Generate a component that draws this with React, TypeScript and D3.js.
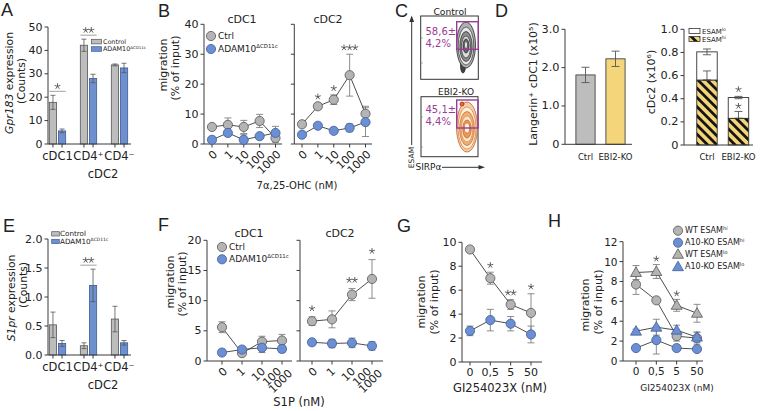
import React from "react";
import * as d3 from "d3";

// ---------------- data ----------------
const exprCategories = ["cDC1", "CD4⁺", "CD4⁻"];
const exprGroups = ["Control", "ADAM10"];
const gpr183Control = [17.8, 42.2, 33.8];
const gpr183ControlErr = [3.0, 2.6, 0.4];
const gpr183Adam = [5.6, 28.0, 32.5];
const gpr183AdamErr = [0.8, 1.8, 2.0];
const gpr183Ticks = [0, 10, 20, 30, 40, 50];
const gpr183Sig = [{ cat: "cDC1", text: "*" }, { cat: "CD4⁺", text: "**" }];

const s1prControl = [0.52, 0.16, 0.62];
const s1prControlErr = [0.22, 0.05, 0.22];
const s1prAdam = [0.2, 1.2, 0.21];
const s1prAdamErr = [0.05, 0.28, 0.04];
const s1prTicks = [0, 0.5, 1.0, 1.5, 2.0];
const s1prSig = [{ cat: "CD4⁺", text: "**" }];

const ohcDoses = ["0", "1", "10", "100", "1000"];
const ohcCdc1Ctrl = [5.7, 6.4, 5.7, 7.7, 2.0];
const ohcCdc1CtrlErr = [0.6, 2.3, 2.2, 2.2, 1.4];
const ohcCdc1Adam = [1.4, 3.7, 1.4, 2.6, 3.7];
const ohcCdc1AdamErr = [0.4, 0.9, 1.7, 0.7, 2.2];
const ohcCdc2Ctrl = [6.6, 12.6, 14.8, 23.0, 10.1];
const ohcCdc2CtrlErr = [0.6, 1.0, 1.6, 7.0, 2.5];
const ohcCdc2Adam = [3.1, 6.1, 4.4, 5.4, 7.3];
const ohcCdc2AdamErr = [0.4, 0.5, 0.5, 1.3, 4.8];
const ohcCdc2Sig = [{ dose: "1", text: "*" }, { dose: "10", text: "*" }, { dose: "100", text: "***" }];
const mig40Ticks = [0, 10, 20, 30, 40];

const s1pDoses = ["0", "1", "10", "100"];
const s1pTickLabels = ["0", "1", "10", "100", "1000"];
const s1pCdc1Ctrl = [5.6, 1.3, 3.2, 3.4];
const s1pCdc1CtrlErr = [0.9, 0.3, 0.9, 1.0];
const s1pCdc1Adam = [1.4, 1.9, 2.2, 2.0];
const s1pCdc1AdamErr = [0.2, 0.5, 0.8, 0.6];
const s1pCdc2Ctrl = [6.6, 6.9, 11.0, 13.6];
const s1pCdc2CtrlErr = [0.7, 1.4, 1.0, 3.2];
const s1pCdc2Adam = [3.1, 2.9, 3.0, 2.5];
const s1pCdc2AdamErr = [0.3, 0.7, 0.8, 0.7];
const s1pCdc2Sig = [{ dose: "0", text: "*" }, { dose: "10", text: "**" }, { dose: "100", text: "*" }];
const mig20Ticks = [0, 5, 10, 15, 20];

const giDoses = ["0", "0,5", "5", "50"];
const giCtrl = [9.4, 7.0, 4.8, 4.1];
const giCtrlErr = [0.2, 0.5, 0.4, 1.6];
const giAdam = [2.6, 3.5, 3.2, 2.3];
const giAdamErr = [0.4, 0.9, 0.6, 0.7];
const giSig = [{ dose: "0,5", text: "*" }, { dose: "5", text: "**" }, { dose: "50", text: "*" }];
const giTicks = [0, 2, 4, 6, 8, 10];

const hWtHi = [7.7, 6.1, 2.5, 2.3];
const hWtHiErr = [1.0, 0.2, 0.5, 0.6];
const hKoHi = [1.3, 2.1, 1.3, 1.2];
const hKoHiErr = [0.2, 1.4, 0.2, 0.2];
const hWtLo = [8.9, 9.0, 5.6, 4.8];
const hWtLoErr = [0.7, 0.7, 0.6, 0.9];
const hKoLo = [3.0, 3.4, 3.1, 2.4];
const hKoLoErr = [0.2, 0.8, 0.5, 0.5];
const hSig = [{ dose: "0,5", text: "*" }, { dose: "5", text: "*" }];
const hTicks = [0, 2, 4, 6, 8, 10, 12];

const dGroups = ["Ctrl", "EBI2-KO"];
const langerinCdc1 = [1.81, 2.23];
const langerinCdc1Err = [0.2, 0.2];
const cdc2EsamHi = [0.56, 0.23];
const cdc2EsamHiErr = [0.08, 0.06];
const cdc2Total = [0.805, 0.41];
const cdc2TotalErr = [0.025, 0.01];
const dLeftTicks = [0, 1, 2, 3];
const dRightTicks = [0, 0.2, 0.4, 0.6, 0.8, 1.0];

// ---------------- style ----------------
const FONT = "'DejaVu Sans', Verdana, sans-serif";
const LETTER_FONT = "'Liberation Sans', Arial, Helvetica, sans-serif";
const INK = "#222";
const AXIS = "#3a3a3a";
const GRAY_FILL = "#b4b4b4";
const GRAY_STROKE = "#555";
const BLUE_FILL = "#6b8fd2";
const BLUE_STROKE = "#3d5d9c";
const ERR = "#808080";
const STAR = "#5a5a5a";
const PURPLE = "#9b3a97";
const YELLOW = "#f4d57a";
const BAR_GRAY = "#bdbdbd";
const BAR_BLUE = "#6e90cf";

function YAxis({ y, x, ticks, fmt, labels = true, fs = 11 }: any) {
  const r = y.range();
  return (
    <g>
      <line x1={x} x2={x} y1={r[0]} y2={r[1]} stroke={AXIS} strokeWidth={1} />
      {ticks.map((t: number) => (
        <g key={t}>
          <line x1={x - 3.5} x2={x} y1={y(t)} y2={y(t)} stroke={AXIS} strokeWidth={1} />
          {labels && (
            <text x={x - 5.5} y={y(t)} textAnchor="end" dominantBaseline="central" fontSize={fs} fill={INK}>
              {fmt ? fmt(t) : String(t)}
            </text>
          )}
        </g>
      ))}
    </g>
  );
}

function XAxis({ x0, x1, y, ticksAt }: any) {
  return (
    <g stroke={AXIS} strokeWidth={1}>
      <line x1={x0} x2={x1} y1={y} y2={y} />
      {ticksAt.map((t: number, i: number) => (
        <line key={i} x1={t} x2={t} y1={y} y2={y + 3.5} />
      ))}
    </g>
  );
}

function ErrorBar({ x, yLo, yHi, w = 7, color = ERR, sw = 0.9 }: any) {
  return (
    <g stroke={color} strokeWidth={sw}>
      <line x1={x} x2={x} y1={yLo} y2={yHi} />
      <line x1={x - w / 2} x2={x + w / 2} y1={yLo} y2={yLo} />
      <line x1={x - w / 2} x2={x + w / 2} y1={yHi} y2={yHi} />
    </g>
  );
}

function Marker({ x, y, shape, color }: any) {
  const fill = color === "gray" ? GRAY_FILL : BLUE_FILL;
  const stroke = color === "gray" ? GRAY_STROKE : BLUE_STROKE;
  if (shape === "triangle") {
    const d = d3.symbol(d3.symbolTriangle, 52)() as string;
    return <path d={d} transform={`translate(${x},${y + 0.8})`} fill={fill} stroke={stroke} strokeWidth={0.8} />;
  }
  return <circle cx={x} cy={y} r={4.6} fill={fill} stroke={stroke} strokeWidth={0.8} />;
}

function SeriesLayer({ xs, y, series }: any) {
  const line = d3.line();
  return (
    <g>
      {series.map((s: any, si: number) => (
        <g key={"e" + si}>
          {s.values.map((v: number, i: number) =>
            s.errs[i] > 0 ? (
              <ErrorBar key={i} x={xs[i]} yLo={y(Math.max(0, v - s.errs[i]))} yHi={y(v + s.errs[i])} />
            ) : null
          )}
        </g>
      ))}
      {series.map((s: any, si: number) => (
        <path
          key={"l" + si}
          d={line(s.values.map((v: number, i: number) => [xs[i], y(v)])) as string}
          fill="none"
          stroke="#3a3a3a"
          strokeWidth={0.9}
        />
      ))}
      {series.map((s: any, si: number) => (
        <g key={"m" + si}>
          {s.values.map((v: number, i: number) => (
            <Marker key={i} x={xs[i]} y={y(v)} shape={s.shape} color={s.color} />
          ))}
        </g>
      ))}
    </g>
  );
}

// significance asterisks drawn as small 5-armed stars (gray)
function Star({ x, y, text }: any) {
  const n = text.length;
  const gap = 5.6;
  const r = 2.7;
  const arms = [-90, -18, 54, 126, 198].map((a) => (a * Math.PI) / 180);
  return (
    <g stroke={STAR} strokeWidth={0.95} strokeLinecap="round">
      {d3.range(n).map((k) => {
        const cx = x + (k - (n - 1) / 2) * gap;
        return (
          <g key={k}>
            {arms.map((a, j) => (
              <line key={j} x1={cx} y1={y} x2={cx + r * Math.cos(a)} y2={y + r * Math.sin(a)} />
            ))}
          </g>
        );
      })}
    </g>
  );
}

function RotLabels({ items, axisY, fs = 11 }: any) {
  return (
    <g>
      {items.map((it: any, i: number) => (
        <text
          key={i}
          transform={`translate(${it.x + 6},${axisY + 11 + (it.dy || 0)}) rotate(-45)`}
          textAnchor="end"
          fontSize={fs}
          fill={INK}
        >
          {it.text}
        </text>
      ))}
    </g>
  );
}

function VLabel({ x, y, children, fs = 11, italic = false }: any) {
  return (
    <text
      transform={`translate(${x},${y}) rotate(-90)`}
      textAnchor="middle"
      dominantBaseline="central"
      fontSize={fs}
      fill={INK}
      fontStyle={italic ? "italic" : "normal"}
    >
      {children}
    </text>
  );
}

function Letter({ x, y, t }: any) {
  return (
    <text x={x} y={y} fontFamily={LETTER_FONT} fontSize={18} fill={INK}>
      {t}
    </text>
  );
}

function ExprPanel({ y, ticks, fmt, ctrl, ctrlErr, adam, adamErr, sig, legend, ylab }: any) {
  const x = d3.scaleBand<string>().domain(exprCategories).range([42, 135]);
  const sub = d3.scaleBand<string>().domain(exprGroups).range([-10, 10]).padding(0.2);
  const y0 = y(0);
  const groups = [
    { key: "Control", vals: ctrl, errs: ctrlErr, fill: BAR_GRAY, stroke: "#555" },
    { key: "ADAM10", vals: adam, errs: adamErr, fill: BAR_BLUE, stroke: "#3b5b98" },
  ];
  const bw = sub.bandwidth();
  const bx = (cat: string, g: string) => (x(cat) as number) + x.bandwidth() / 2 + (sub(g) as number);
  return (
    <g>
      {groups.map((g) =>
        exprCategories.map((c, i) => (
          <g key={g.key + c}>
            <rect x={bx(c, g.key)} y={y(g.vals[i])} width={bw} height={y0 - y(g.vals[i])} fill={g.fill} stroke={g.stroke} strokeWidth={0.8} />
            <ErrorBar x={bx(c, g.key) + bw / 2} yLo={y(g.vals[i] - g.errs[i])} yHi={y(g.vals[i] + g.errs[i])} w={5} color="#555" sw={0.8} />
          </g>
        ))
      )}
      <YAxis y={y} x={48} ticks={ticks} fmt={fmt} />
      <XAxis
        x0={48}
        x1={131}
        y={y0}
        ticksAt={exprCategories.flatMap((c) => exprGroups.map((g) => bx(c, g) + bw / 2))}
      />
      {exprCategories.map((c) => (
        <text key={c} x={(x(c) as number) + x.bandwidth() / 2} y={y0 + 16} textAnchor="middle" fontSize={11.5} fill={INK}>
          {c}
        </text>
      ))}
      <text x={103} y={y0 + 34} textAnchor="middle" fontSize={11.5} fill={INK}>
        cDC2
      </text>
      {sig.map((s: any, k: number) => {
        const i = exprCategories.indexOf(s.cat);
        const top = Math.max(ctrl[i] + ctrlErr[i], adam[i] + adamErr[i]);
        const ly = y(top) - 4;
        const xl = bx(s.cat, "Control");
        const xr = bx(s.cat, "ADAM10") + bw;
        return (
          <g key={k}>
            <line x1={xl} x2={xr} y1={ly} y2={ly} stroke="#888" strokeWidth={0.8} />
            <Star x={(xl + xr) / 2} y={ly - 5} text={s.text} />
          </g>
        );
      })}
      {/* legend */}
      <rect x={legend.x} y={legend.y1} width={legend.w} height={legend.h} fill={BAR_GRAY} stroke="#555" strokeWidth={0.7} />
      <rect x={legend.x} y={legend.y2} width={legend.w} height={legend.h} fill={BAR_BLUE} stroke="#3b5b98" strokeWidth={0.7} />
      <text x={legend.tx} y={legend.y1 + legend.h} fontSize={legend.fs} fill={INK}>Control</text>
      <text x={legend.tx} y={legend.y2 + legend.h} fontSize={legend.fs} fill={INK}>
        ADAM10<tspan fontSize={legend.fs * 0.62} dy={-2.5}>ΔCD11c</tspan>
      </text>
      <VLabel x={ylab.x1} y={ylab.y1} fs={10.8}>
        <tspan fontStyle="italic">{ylab.italic}</tspan>
        {ylab.rest}
      </VLabel>
      <VLabel x={ylab.x2} y={ylab.y2} fs={10.8}>(Counts)</VLabel>
    </g>
  );
}

function MigLegend({ x, y1, y2, fs = 9 }: any) {
  return (
    <g>
      <Marker x={x} y={y1} shape="circle" color="gray" />
      <Marker x={x} y={y2} shape="circle" color="blue" />
      <text x={x + 7} y={y1} dominantBaseline="central" fontSize={fs} fill={INK}>Ctrl</text>
      <text x={x + 7} y={y2} dominantBaseline="central" fontSize={fs} fill={INK}>
        ADAM10<tspan fontSize={fs * 0.6} dy={-3}>ΔCD11c</tspan>
      </text>
    </g>
  );
}

function PanelB() {
  const y = d3.scaleLinear().domain([0, 40]).range([144, 24.3]);
  const x1 = d3.scalePoint<string>().domain(ohcDoses).range([212, 275.5]);
  const x2 = d3.scalePoint<string>().domain(ohcDoses).range([302, 365.5]);
  const xs1 = ohcDoses.map((d) => x1(d) as number);
  const xs2 = ohcDoses.map((d) => x2(d) as number);
  return (
    <g>
      <Letter x={158} y={17} t="B" />
      <text x={242} y={23} textAnchor="middle" fontSize={11} fill={INK}>cDC1</text>
      <text x={328} y={23} textAnchor="middle" fontSize={11} fill={INK}>cDC2</text>
      <YAxis y={y} x={204} ticks={mig40Ticks} />
      <YAxis y={y} x={294.3} ticks={mig40Ticks} labels={false} />
      <XAxis x0={204} x1={282} y={144} ticksAt={xs1} />
      <XAxis x0={294.3} x1={372} y={144} ticksAt={xs2} />
      <RotLabels axisY={144} items={ohcDoses.map((d, i) => ({ x: xs1[i], text: d }))} />
      <RotLabels axisY={144} items={ohcDoses.map((d, i) => ({ x: xs2[i], text: d }))} />
      <SeriesLayer
        xs={xs1}
        y={y}
        series={[
          { values: ohcCdc1Ctrl, errs: ohcCdc1CtrlErr, color: "gray", shape: "circle" },
          { values: ohcCdc1Adam, errs: ohcCdc1AdamErr, color: "blue", shape: "circle" },
        ]}
      />
      <SeriesLayer
        xs={xs2}
        y={y}
        series={[
          { values: ohcCdc2Ctrl, errs: ohcCdc2CtrlErr, color: "gray", shape: "circle" },
          { values: ohcCdc2Adam, errs: ohcCdc2AdamErr, color: "blue", shape: "circle" },
        ]}
      />
      {ohcCdc2Sig.map((s, k) => {
        const i = ohcDoses.indexOf(s.dose);
        return <Star key={k} x={xs2[i]} y={y(ohcCdc2Ctrl[i] + ohcCdc2CtrlErr[i]) - 6.6} text={s.text} />;
      })}
      <MigLegend x={211} y1={36} y2={49} />
      <VLabel x={163} y={65}>migration</VLabel>
      <VLabel x={175} y={68}>(% of input)</VLabel>
      <text x={297} y={189} textAnchor="middle" fontSize={10} fill={INK}>7α,25-OHC (nM)</text>
    </g>
  );
}

function PanelF() {
  const y = d3.scaleLinear().domain([0, 20]).range([361, 240.3]);
  const x1 = d3.scalePoint<string>().domain(s1pDoses).range([222, 282]);
  const x2 = d3.scalePoint<string>().domain(s1pDoses).range([312, 372]);
  const xs1 = s1pDoses.map((d) => x1(d) as number);
  const xs2 = s1pDoses.map((d) => x2(d) as number);
  // tick labels as printed in the figure: five labels crowded over four ticks
  const labelShift = [0, -2, -2, -6, 5];
  const labelDy = [0, 0, 0, 0, 2];
  const labs = (xs: number[]) =>
    s1pTickLabels.map((t, i) => ({ x: xs[Math.min(i, xs.length - 1)] + labelShift[i], dy: labelDy[i], text: t }));
  return (
    <g>
      <Letter x={158} y={231} t="F" />
      <text x={249} y={237} textAnchor="middle" fontSize={11} fill={INK}>cDC1</text>
      <text x={340} y={237} textAnchor="middle" fontSize={11} fill={INK}>cDC2</text>
      <YAxis y={y} x={207} ticks={mig20Ticks} />
      <YAxis y={y} x={300} ticks={mig20Ticks} labels={false} />
      <XAxis x0={207} x1={292} y={361} ticksAt={xs1} />
      <XAxis x0={300} x1={383} y={361} ticksAt={xs2} />
      <RotLabels axisY={361} items={labs(xs1)} />
      <RotLabels axisY={361} items={labs(xs2)} />
      <SeriesLayer
        xs={xs1}
        y={y}
        series={[
          { values: s1pCdc1Ctrl, errs: s1pCdc1CtrlErr, color: "gray", shape: "circle" },
          { values: s1pCdc1Adam, errs: s1pCdc1AdamErr, color: "blue", shape: "circle" },
        ]}
      />
      <SeriesLayer
        xs={xs2}
        y={y}
        series={[
          { values: s1pCdc2Ctrl, errs: s1pCdc2CtrlErr, color: "gray", shape: "circle" },
          { values: s1pCdc2Adam, errs: s1pCdc2AdamErr, color: "blue", shape: "circle" },
        ]}
      />
      {s1pCdc2Sig.map((s, k) => {
        const i = s1pDoses.indexOf(s.dose);
        return <Star key={k} x={xs2[i]} y={y(s1pCdc2Ctrl[i] + s1pCdc2CtrlErr[i]) - 8.5} text={s.text} />;
      })}
      <MigLegend x={222} y1={247} y2={259.3} />
      <VLabel x={170} y={282}>migration</VLabel>
      <VLabel x={182} y={284}>(% of input)</VLabel>
      <text x={299} y={406} textAnchor="middle" fontSize={11.5} fill={INK}>S1P (nM)</text>
    </g>
  );
}

function PanelG() {
  const y = d3.scaleLinear().domain([0, 10]).range([362, 242.3]);
  const x = d3.scalePoint<string>().domain(giDoses).range([470, 531]);
  const xs = giDoses.map((d) => x(d) as number);
  return (
    <g>
      <Letter x={397} y={232} t="G" />
      <YAxis y={y} x={462} ticks={giTicks} />
      <XAxis x0={462} x1={542} y={362} ticksAt={xs} />
      {giDoses.map((d, i) => (
        <text key={d} x={xs[i]} y={376} textAnchor="middle" fontSize={11} fill={INK}>{d}</text>
      ))}
      <SeriesLayer
        xs={xs}
        y={y}
        series={[
          { values: giCtrl, errs: giCtrlErr, color: "gray", shape: "circle" },
          { values: giAdam, errs: giAdamErr, color: "blue", shape: "circle" },
        ]}
      />
      {giSig.map((s, k) => {
        const i = giDoses.indexOf(s.dose);
        return <Star key={k} x={xs[i]} y={y(giCtrl[i] + giCtrlErr[i]) - 7} text={s.text} />;
      })}
      <VLabel x={421} y={302}>migration</VLabel>
      <VLabel x={434} y={302}>(% of input)</VLabel>
      <text x={500} y={392} textAnchor="middle" fontSize={11.5} fill={INK}>GI254023X (nM)</text>
    </g>
  );
}

function PanelH() {
  const y = d3.scaleLinear().domain([0, 12]).range([361, 241.7]);
  const x = d3.scalePoint<string>().domain(giDoses).range([636, 697]);
  const xs = giDoses.map((d) => x(d) as number);
  const legend = [
    { label: "WT ESAM", sup: "hi", color: "gray", shape: "circle" },
    { label: "A10-KO ESAM", sup: "hi", color: "blue", shape: "circle" },
    { label: "WT ESAM", sup: "lo", color: "gray", shape: "triangle" },
    { label: "A10-KO ESAM", sup: "lo", color: "blue", shape: "triangle" },
  ];
  const ly = [230.7, 242.7, 254.3, 266.7];
  return (
    <g>
      <Letter x={548} y={227} t="H" />
      <YAxis y={y} x={623} ticks={hTicks} fs={10.5} />
      <XAxis x0={623} x1={703} y={361} ticksAt={xs} />
      {giDoses.map((d, i) => (
        <text key={d} x={xs[i]} y={375} textAnchor="middle" fontSize={10.5} fill={INK}>{d}</text>
      ))}
      <SeriesLayer
        xs={xs}
        y={y}
        series={[
          { values: hWtHi, errs: hWtHiErr, color: "gray", shape: "circle" },
          { values: hKoHi, errs: hKoHiErr, color: "blue", shape: "circle" },
          { values: hWtLo, errs: hWtLoErr, color: "gray", shape: "triangle" },
          { values: hKoLo, errs: hKoLoErr, color: "blue", shape: "triangle" },
        ]}
      />
      {hSig.map((s, k) => {
        const i = giDoses.indexOf(s.dose);
        return <Star key={k} x={xs[i]} y={y(hWtLo[i] + hWtLoErr[i]) - 5.7} text={s.text} />;
      })}
      {legend.map((l, i) => (
        <g key={i}>
          <Marker x={678} y={ly[i]} shape={l.shape} color={l.color} />
          <text x={685} y={ly[i]} dominantBaseline="central" fontSize={8} fill={INK}>
            {l.label}
            <tspan fontSize={5} dy={-2.5}>{l.sup}</tspan>
          </text>
        </g>
      ))}
      <VLabel x={585} y={305}>migration</VLabel>
      <VLabel x={598} y={302}>(% of input)</VLabel>
      <text x={677} y={391} textAnchor="middle" fontSize={9} fill={INK}>GI254023X (nM)</text>
    </g>
  );
}

const topRings = [
  { rx: 9.5, ry: 23, dy: 0, fill: "#b0b0b0", stroke: "#111" },
  { rx: 7.8, ry: 19, dy: 1, fill: "#e8e8e8", stroke: "#333" },
  { rx: 6.2, ry: 15, dy: 1.5, fill: "#8c8c8c", stroke: "#222" },
  { rx: 4.6, ry: 11, dy: 2, fill: "#dedede", stroke: "#333" },
  { rx: 3.0, ry: 7, dy: 1, fill: "#666", stroke: "#222" },
  { rx: 1.5, ry: 3.5, dy: 0, fill: "#eee", stroke: "#444" },
];
const bottomRings = [
  { rx: 10.5, ry: 25, dy: 0, fill: "#f6cfaa", stroke: "#b9501a" },
  { rx: 9, ry: 21, dy: 1, fill: "#fff1e2", stroke: "#d2772f" },
  { rx: 7.4, ry: 17, dy: 1.5, fill: "#efae76", stroke: "#c8661f" },
  { rx: 5.8, ry: 13, dy: 2, fill: "#fde6cf", stroke: "#d98a45" },
  { rx: 4.2, ry: 9, dy: 2, fill: "#e99a58", stroke: "#b9581a" },
  { rx: 2.6, ry: 5, dy: 1, fill: "#fff4e8", stroke: "#c76a2a" },
];

function PanelC() {
  return (
    <g>
      <Letter x={395} y={17} t="C" />
      <text x={450} y={15} textAnchor="middle" fontSize={9.2} fill={INK}>Control</text>
      <rect x={420.7} y={16} width={57.6} height={63.3} fill="#fff" stroke="#333" strokeWidth={1} />
      <ellipse cx={463} cy={66} rx={2.5} ry={7} fill="#444" stroke="#111" strokeWidth={0.6} />
      {topRings.map((r, i) => (
        <ellipse key={i} cx={466} cy={45 + r.dy} rx={r.rx} ry={r.ry} fill={r.fill} stroke={r.stroke} strokeWidth={0.7} />
      ))}
      <rect x={456.7} y={21.7} width={21.6} height={27.6} fill="none" stroke={PURPLE} strokeWidth={1.4} />
      <text x={425.5} y={35} fontSize={10} fill={PURPLE}>58,6±</text>
      <text x={425.5} y={46.5} fontSize={10} fill={PURPLE}>4,2%</text>

      <text x={456} y={95} textAnchor="middle" fontSize={9} fill={INK}>EBI2-KO</text>
      <rect x={421} y={96.7} width={57} height={60} fill="#fff" stroke="#333" strokeWidth={1} />
      {bottomRings.map((r, i) => (
        <ellipse key={i} cx={467} cy={127 + r.dy} rx={r.rx} ry={r.ry} fill={r.fill} stroke={r.stroke} strokeWidth={0.7} />
      ))}
      <circle cx={462} cy={104} r={2} fill="#e07030" stroke="#a02a10" strokeWidth={0.8} />
      <rect x={456.7} y={100} width={21.3} height={28} fill="none" stroke={PURPLE} strokeWidth={1.4} />
      <text x={425.5} y={113} fontSize={10} fill={PURPLE}>45,1±</text>
      <text x={425.5} y={124.5} fontSize={10} fill={PURPLE}>4,4%</text>

      {[38, 63, 117, 147].map((t) => (
        <line key={t} x1={421} x2={423} y1={t} y2={t} stroke="#888" strokeWidth={0.6} />
      ))}
      {/* axes arrows */}
      <line x1={411.7} x2={411.7} y1={145} y2={21} stroke="#333" strokeWidth={1} />
      <path d="M411.7,15.5 L409.3,22 L414.1,22 Z" fill="#333" />
      <text transform="translate(411.5,157.5) rotate(-90)" textAnchor="middle" dominantBaseline="central" fontSize={7.5} fill={INK}>ESAM</text>
      <text x={415.5} y={170} fontSize={9} fill={INK}>SIRPα</text>
      <line x1={442} x2={479} y1={167.3} y2={167.3} stroke="#333" strokeWidth={1} />
      <path d="M485,167.3 L478.5,165 L478.5,169.6 Z" fill="#333" />
    </g>
  );
}

function PanelD() {
  const yL = d3.scaleLinear().domain([0, 3]).range([144.3, 29.3]);
  const xL = d3.scaleBand<string>().domain(dGroups).range([570.5, 630.5]).paddingInner(0.36).paddingOuter(0.18);
  const yR = d3.scaleLinear().domain([0, 1]).range([145, 29.3]);
  const xR = d3.scaleBand<string>().domain(dGroups).range([690.45, 755]).paddingInner(0.35).paddingOuter(0.2);
  const fillsL = [BAR_GRAY, YELLOW];
  return (
    <g>
      <Letter x={495} y={17} t="D" />
      {dGroups.map((g, i) => {
        const bx = xL(g) as number;
        const bw = xL.bandwidth();
        return (
          <g key={g}>
            <rect x={bx} y={yL(langerinCdc1[i])} width={bw} height={yL(0) - yL(langerinCdc1[i])} fill={fillsL[i]} stroke="#444" strokeWidth={0.9} />
            <ErrorBar x={bx + bw / 2} yLo={yL(langerinCdc1[i] - langerinCdc1Err[i])} yHi={yL(langerinCdc1[i] + langerinCdc1Err[i])} w={8} color="#555" />
            <text x={bx + bw / 2} y={160} textAnchor="middle" fontSize={8.5} fill={INK}>{g}</text>
          </g>
        );
      })}
      <YAxis y={yL} x={565} ticks={dLeftTicks} fmt={(t: number) => (t === 0 ? "0" : t.toFixed(1))} fs={11.3} />
      <XAxis x0={565} x1={632} y={144.3} ticksAt={[]} />
      <VLabel x={533} y={84} fs={11}>Langerin⁺ cDC1 (x10⁵)</VLabel>

      {dGroups.map((g, i) => {
        const bx = xR(g) as number;
        const bw = xR.bandwidth();
        const cx = bx + bw / 2;
        return (
          <g key={g}>
            <rect x={bx} y={yR(cdc2Total[i])} width={bw} height={yR(cdc2EsamHi[i]) - yR(cdc2Total[i])} fill="#fff" stroke="#333" strokeWidth={0.9} />
            <rect x={bx} y={yR(cdc2EsamHi[i])} width={bw} height={yR(0) - yR(cdc2EsamHi[i])} fill="url(#hatch)" stroke="#333" strokeWidth={0.9} />
            <ErrorBar x={cx} yLo={yR(cdc2EsamHi[i])} yHi={yR(cdc2EsamHi[i] + cdc2EsamHiErr[i])} w={8} color="#555" />
            <line x1={cx - 4} x2={cx + 4} y1={yR(cdc2EsamHi[i])} y2={yR(cdc2EsamHi[i])} stroke="#333" strokeWidth={0.9} />
            <ErrorBar x={cx} yLo={yR(cdc2Total[i] - cdc2TotalErr[i])} yHi={yR(cdc2Total[i] + cdc2TotalErr[i])} w={8} color="#555" />
            <text x={cx} y={160} textAnchor="middle" fontSize={8.5} fill={INK}>{g}</text>
          </g>
        );
      })}
      {(() => {
        const cx = (xR("EBI2-KO") as number) + xR.bandwidth() / 2;
        return (
          <g>
            <Star x={cx} y={yR(cdc2Total[1] + cdc2TotalErr[1]) - 7} text="*" />
            <Star x={cx} y={yR(cdc2EsamHi[1] + cdc2EsamHiErr[1]) - 5.4} text="*" />
          </g>
        );
      })()}
      <YAxis y={yR} x={684} ticks={dRightTicks} fmt={(t: number) => (t === 0 ? "0" : t.toFixed(1))} fs={11.3} />
      <XAxis x0={684} x1={753} y={145} ticksAt={[]} />
      <VLabel x={651} y={82} fs={11}>cDc2 (x10⁶)</VLabel>
      {/* legend */}
      <rect x={689} y={28.5} width={11} height={5} fill="#fff" stroke="#333" strokeWidth={0.8} />
      <rect x={689} y={36.5} width={11} height={5} fill="url(#hatch)" stroke="#333" strokeWidth={0.8} />
      <text x={702} y={33.5} fontSize={7} fill={INK}>ESAM<tspan fontSize={4.5} dy={-2.5}>lo</tspan></text>
      <text x={702} y={41.5} fontSize={7} fill={INK}>ESAM<tspan fontSize={4.5} dy={-2.5}>hi</tspan></text>
    </g>
  );
}

export default function App() {
  const yA = d3.scaleLinear().domain([0, 50]).range([144, 27]);
  const yE = d3.scaleLinear().domain([0, 2]).range([355, 239]);
  return (
    <svg
      width={760}
      height={411}
      viewBox="0 0 760 411"
      style={{ position: "absolute", left: 0, top: 0, background: "#fff" }}
      fontFamily={FONT}
    >
      <defs>
        <pattern id="hatch" patternUnits="userSpaceOnUse" width={6.5} height={6.5} patternTransform="rotate(-45)">
          <rect width={6.5} height={6.5} fill={YELLOW} />
          <rect width={2.8} height={6.5} fill="#151515" />
        </pattern>
      </defs>
      <rect x={0} y={0} width={760} height={411} fill="#fff" />

      <Letter x={1} y={16} t="A" />
      <ExprPanel
        y={yA}
        ticks={gpr183Ticks}
        fmt={(t: number) => String(t)}
        ctrl={gpr183Control}
        ctrlErr={gpr183ControlErr}
        adam={gpr183Adam}
        adamErr={gpr183AdamErr}
        sig={gpr183Sig}
        legend={{ x: 91.5, y1: 39.3, y2: 46.7, w: 10, h: 4.6, tx: 103, fs: 6.4 }}
        ylab={{ italic: "Gpr183", rest: " expression", x1: 9, y1: 83, x2: 21.5, y2: 81 }}
      />

      <Letter x={3} y={232} t="E" />
      <ExprPanel
        y={yE}
        ticks={s1prTicks}
        fmt={(t: number) => t.toFixed(1)}
        ctrl={s1prControl}
        ctrlErr={s1prControlErr}
        adam={s1prAdam}
        adamErr={s1prAdamErr}
        sig={s1prSig}
        legend={{ x: 51.7, y1: 231.7, y2: 239.3, w: 7.6, h: 4.3, tx: 60, fs: 7.2 }}
        ylab={{ italic: "S1pr", rest: " expression", x1: 11, y1: 298, x2: 23, y2: 285 }}
      />

      <PanelB />
      <PanelC />
      <PanelD />
      <PanelF />
      <PanelG />
      <PanelH />
    </svg>
  );
}
